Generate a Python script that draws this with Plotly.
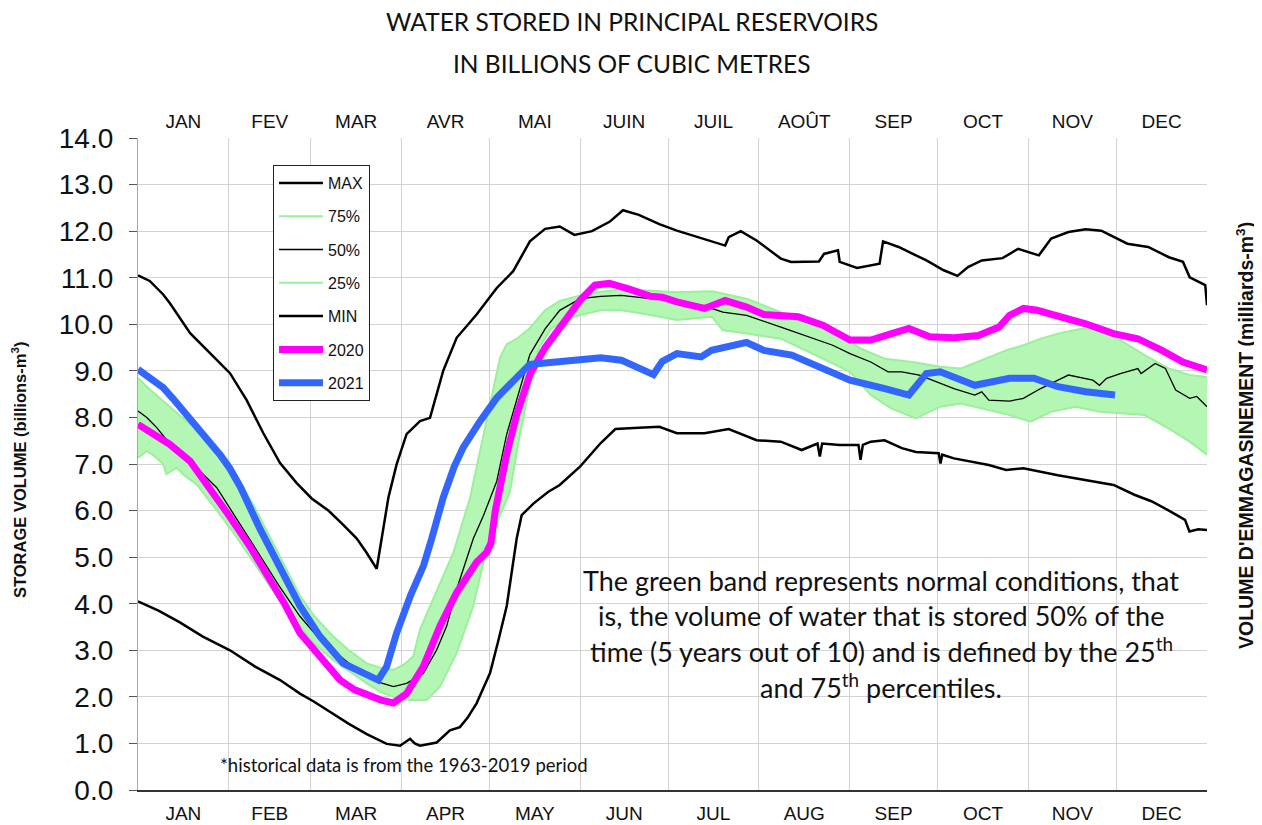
import plotly.graph_objects as go

# ---------------- data (day of year, billions m3) ----------------
MONTH_START = [0, 31, 59, 90, 120, 151, 181, 212, 243, 273, 304, 334, 365]
MONTHS_EN = ["JAN", "FEB", "MAR", "APR", "MAY", "JUN", "JUL", "AUG", "SEP", "OCT", "NOV", "DEC"]
MONTHS_FR = ["JAN", "FEV", "MAR", "AVR", "MAI", "JUIN", "JUIL", "AOÛT", "SEP", "OCT", "NOV", "DEC"]
Y_TICKS = [0, 1, 2, 3, 4, 5, 6, 7, 8, 9, 10, 11, 12, 13, 14]

MAX_DAY = [0, 4, 8.6, 10.9, 17.8, 25.7, 31.4, 37.1, 42.8, 48.5, 54.2, 59.3, 65, 70, 74.7, 78, 81.5,
           83.2, 85.5, 88.3, 91.7, 96.3, 99.7, 104.2, 108.8, 115.6, 122.5, 128.1, 133.8, 139, 144,
           149, 155, 161, 165.6, 171, 178, 184, 192, 200.5, 201.7, 205.8, 211.2, 219.5, 223, 232.5,
           234.2, 239, 239.6, 245.5, 253.2, 254.4, 259.7, 269.2, 275.1, 279.8, 283.4, 288.1, 295.2,
           300.5, 307.6, 311.8, 317.7, 323.6, 328.9, 337.8, 344.9, 352, 356.8, 359.1, 364.4, 365]
MAX_VAL = [11.05, 10.93, 10.64, 10.45, 9.81, 9.3, 8.95, 8.37, 7.66, 7.02, 6.59, 6.26, 6.0, 5.7, 5.4,
           5.1, 4.75, 5.4, 6.28, 6.99, 7.64, 7.92, 7.99, 9.0, 9.71, 10.21, 10.78, 11.14, 11.78, 12.05,
           12.1, 11.92, 12.0, 12.2, 12.45, 12.35, 12.15, 12.01, 11.85, 11.69, 11.87, 12.0, 11.8, 11.41,
           11.34, 11.35, 11.51, 11.59, 11.34, 11.21, 11.3, 11.78, 11.66, 11.37, 11.16, 11.04, 11.23,
           11.37, 11.42, 11.62, 11.48, 11.84, 11.98, 12.04, 12.01, 11.73, 11.66, 11.44, 11.34, 11.01,
           10.84, 10.41]

P75_DAY = [0, 4, 8.6, 16, 24, 31, 40, 48, 55.3, 60, 66.6, 72, 78.1, 83, 87.2, 91, 94, 96.3, 100.8,
           103.1, 107.7, 113.4, 118, 121, 123.6, 125.9, 129.8, 133.8, 139, 144, 151, 158, 165, 175,
           184, 196, 207.8, 219.5, 231.3, 239.6, 246.7, 255, 264.4, 273.9, 281, 290.5, 296.4, 302.3,
           308.2, 314.1, 322.4, 328.3, 335.4, 343.7, 352, 359.1, 365]
P75_VAL = [8.85, 8.6, 8.35, 7.95, 7.55, 7.05, 6.05, 5.05, 4.17, 3.75, 3.3, 3.0, 2.72, 2.62, 2.58, 2.7,
           2.87, 3.45, 4.1, 4.46, 5.1, 6.28, 7.6, 8.5, 9.28, 9.57, 9.71, 9.92, 10.3, 10.5, 10.62, 10.7,
           10.75, 10.72, 10.69, 10.71, 10.55, 10.26, 9.98, 9.8, 9.48, 9.26, 9.19, 9.09, 9.05, 9.3,
           9.44, 9.55, 9.69, 9.8, 9.91, 9.87, 9.66, 9.34, 9.05, 8.91, 8.87]

P50_DAY = [0, 3, 6.4, 10, 14.3, 20, 26.9, 34, 41, 48, 55.3, 62.1, 69, 74, 79.2, 83, 87.2, 91.7, 97.4,
           102, 105.4, 108.8, 112.2, 114.5, 118, 122.5, 125.9, 130.4, 133.8, 139, 144, 151, 158, 165,
           175, 185, 193, 199.7, 207.8, 219.5, 231.3, 237.2, 243.1, 250.2, 256.1, 260.8, 266.8, 273.9,
           278.6, 285.7, 288.1, 290.5, 297.6, 302.3, 308.2, 314.1, 317.7, 326, 328.3, 330.7, 335.4,
           341.4, 342.5, 347.3, 350.8, 354.3, 359.1, 361.5, 365]
P50_VAL = [8.14, 8.0, 7.78, 7.5, 7.21, 6.92, 6.49, 5.8, 5.1, 4.4, 3.73, 3.23, 2.87, 2.62, 2.43, 2.3,
           2.22, 2.29, 2.5, 3.01, 3.52, 4.31, 4.96, 5.4, 5.9, 6.63, 7.64, 8.64, 9.35, 9.9, 10.3, 10.55,
           10.6, 10.62, 10.55, 10.5, 10.4, 10.26, 10.19, 9.94, 9.69, 9.55, 9.37, 9.19, 8.98, 8.98, 8.91,
           8.73, 8.62, 8.48, 8.55, 8.37, 8.35, 8.41, 8.62, 8.8, 8.91, 8.8, 8.69, 8.84, 8.94, 9.05, 8.94,
           9.16, 9.05, 8.59, 8.41, 8.45, 8.23]

P25_DAY = [0, 3, 6, 8.6, 9.7, 13.2, 16, 20, 27, 34, 41, 48, 55.3, 60, 66.6, 72, 78.1, 83, 87.2, 92.9,
           98.6, 103.1, 108.8, 114.5, 117.3, 119, 123, 127, 130, 133.8, 137, 141, 146, 151, 158, 165,
           175, 184, 196, 199.7, 207.8, 219.5, 231.3, 243.1, 250.2, 257.3, 265.6, 273.9, 281, 290.5,
           297.6, 304.7, 311.8, 320.1, 328.3, 335.4, 343.7, 352, 359.1, 365]
P25_VAL = [7.13, 7.28, 7.15, 7.0, 6.78, 6.92, 6.75, 6.56, 6.0, 5.4, 4.75, 4.1, 3.52, 3.15, 2.79, 2.55,
           2.29, 2.1, 2.0, 1.93, 1.93, 2.22, 2.94, 3.95, 4.68, 5.18, 5.8, 6.4, 7.5, 8.7, 9.5, 9.9, 10.1,
           10.2, 10.3, 10.3, 10.2, 10.09, 10.16, 9.87, 9.8, 9.69, 9.34, 8.98, 8.48, 8.19, 7.98, 8.23,
           8.3, 8.16, 8.05, 7.91, 8.12, 8.23, 8.12, 8.09, 8.05, 7.76, 7.48, 7.2]

MIN_DAY = [0, 7, 14.3, 22, 31.4, 40, 48.5, 55.3, 60, 66.6, 72, 78.1, 84.9, 89.5, 92.9, 94.5, 96.3,
           102, 106.5, 109.9, 112.5, 115.6, 120.2, 123, 125.9, 129.3, 131, 135, 140, 144, 151, 158,
           163, 171, 178, 184, 193.4, 201.7, 211.2, 219.5, 226.6, 232, 232.8, 233.6, 239.6, 246,
           246.7, 247.5, 250.2, 254.9, 260.8, 265.6, 273.4, 274, 274.6, 278.6, 290.5, 296.4, 302.3,
           314.1, 326, 333.1, 340.2, 346, 352, 357.5, 359, 362, 365]
MIN_VAL = [4.05, 3.85, 3.6, 3.3, 3.0, 2.65, 2.36, 2.07, 1.9, 1.64, 1.42, 1.2, 0.99, 0.95, 1.1, 1.0,
           0.95, 1.02, 1.28, 1.35, 1.55, 1.86, 2.51, 3.2, 3.95, 5.4, 5.9, 6.15, 6.4, 6.55, 6.95, 7.45,
           7.75, 7.78, 7.8, 7.66, 7.66, 7.75, 7.51, 7.48, 7.3, 7.44, 7.16, 7.44, 7.41, 7.41, 7.09,
           7.41, 7.48, 7.51, 7.34, 7.26, 7.23, 7.01, 7.2, 7.12, 6.98, 6.87, 6.91, 6.76, 6.62, 6.55,
           6.34, 6.2, 6.0, 5.8, 5.55, 5.6, 5.58]

Y2020_DAY = [0, 5, 10.9, 17.8, 24.6, 31, 38, 45, 50, 55.3, 62.1, 69, 74, 78.1, 83, 87.2, 91.7, 97.4,
             103.1, 108.8, 115.6, 119, 120.5, 122, 125.9, 129.3, 133.8, 139, 144, 151, 156, 161, 168,
             175, 179, 184, 193.4, 200.5, 207.8, 213.7, 225.5, 233.8, 243.1, 250.2, 257.3, 263.2,
             270.3, 278.6, 286.9, 294, 297.6, 302.3, 307, 314.1, 323.6, 333.1, 341.4, 349.6, 356.8, 365]
Y2020_VAL = [7.85, 7.65, 7.42, 7.06, 6.49, 5.9, 5.25, 4.55, 4.0, 3.37, 2.87, 2.36, 2.15, 2.04, 1.93,
             1.87, 2.07, 2.65, 3.52, 4.24, 4.89, 5.1, 5.3, 6.0, 7.21, 8.06, 8.92, 9.5, 9.95, 10.52,
             10.84, 10.88, 10.75, 10.6, 10.58, 10.48, 10.34, 10.51, 10.37, 10.21, 10.16, 9.98, 9.66,
             9.66, 9.8, 9.91, 9.73, 9.71, 9.76, 9.94, 10.19, 10.34, 10.3, 10.19, 10.01, 9.8, 9.69,
             9.44, 9.19, 9.02]

Y2021_DAY = [0, 4, 8.6, 12, 16.6, 20, 24.6, 28, 31.4, 35, 41.7, 48, 55.3, 62.1, 66, 70.1, 74, 78.1,
             82, 84.9, 88.3, 93, 97.5, 100.3, 104.2, 108, 111, 116.8, 122.5, 128.1, 133.8, 139, 144,
             151, 158, 165, 170, 174, 176, 179, 184, 192.3, 195.8, 207.8, 213.7, 223.2, 233.8, 243.1,
             255, 263.2, 269.2, 273.9, 285.7, 297.6, 305.9, 314.1, 323.6, 333.6]
Y2021_VAL = [9.03, 8.85, 8.64, 8.4, 8.06, 7.8, 7.49, 7.2, 6.9, 6.5, 5.6, 4.8, 3.95, 3.3, 3.0, 2.72,
             2.6, 2.47, 2.36, 2.65, 3.37, 4.17, 4.82, 5.4, 6.28, 6.95, 7.35, 7.92, 8.42, 8.78, 9.14,
             9.17, 9.2, 9.25, 9.28, 9.23, 9.1, 8.98, 8.92, 9.2, 9.37, 9.3, 9.44, 9.61, 9.44, 9.34,
             9.05, 8.8, 8.62, 8.48, 8.94, 8.98, 8.69, 8.84, 8.84, 8.66, 8.55, 8.48]

# ---------------- styles ----------------
GREEN_LINE = "#9cef9c"
GREEN_FILL = "#b4f7b4"
MAGENTA = "#ff00ff"
BLUE = "#3366ff"
SANS = "Arial, Liberation Sans, sans-serif"
HUMAN = "Lato, Open Sans, sans-serif"

# the page body has an 8px margin, so the figure is 8px smaller than the window
PAGE_OFF = 8
FIG_W, FIG_H = 1262 - PAGE_OFF, 825 - PAGE_OFF
PLOT_L, PLOT_R, PLOT_T, PLOT_B = 138, 1207, 138, 790   # page pixels of the plot area


def px(xp):
    return (xp - PLOT_L) / (PLOT_R - PLOT_L)


def py(yp):
    return (PLOT_B - yp) / (PLOT_B - PLOT_T)


mid_month = [(MONTH_START[i] + MONTH_START[i + 1]) / 2 for i in range(12)]

fig = go.Figure()

# green band fill
fig.add_trace(go.Scatter(x=P75_DAY, y=P75_VAL, mode="lines", line=dict(width=0, color=GREEN_FILL),
                         showlegend=False, hoverinfo="skip"))
fig.add_trace(go.Scatter(x=P25_DAY, y=P25_VAL, mode="lines", line=dict(width=0, color=GREEN_FILL),
                         fill="tonexty", fillcolor=GREEN_FILL, showlegend=False, hoverinfo="skip"))

fig.add_trace(go.Scatter(x=P75_DAY, y=P75_VAL, mode="lines", name="75%", legendrank=2, legendgroup="g2",
                         line=dict(color=GREEN_LINE, width=2)))
fig.add_trace(go.Scatter(x=P25_DAY, y=P25_VAL, mode="lines", name="25%", legendrank=4, legendgroup="g4",
                         line=dict(color=GREEN_LINE, width=2)))
fig.add_trace(go.Scatter(x=MAX_DAY, y=MAX_VAL, mode="lines", name="MAX", legendrank=1, legendgroup="g1",
                         line=dict(color="black", width=2.5)))
fig.add_trace(go.Scatter(x=MIN_DAY, y=MIN_VAL, mode="lines", name="MIN", legendrank=5, legendgroup="g5",
                         line=dict(color="black", width=2.5)))
fig.add_trace(go.Scatter(x=P50_DAY, y=P50_VAL, mode="lines", name="50%", legendrank=3, legendgroup="g3",
                         line=dict(color="black", width=1.3)))
fig.add_trace(go.Scatter(x=Y2020_DAY, y=Y2020_VAL, mode="lines", name="2020", legendrank=6, legendgroup="g6",
                         line=dict(color=MAGENTA, width=7)))
fig.add_trace(go.Scatter(x=Y2021_DAY, y=Y2021_VAL, mode="lines", name="2021", legendrank=7, legendgroup="g7",
                         line=dict(color=BLUE, width=7)))
# carrier for the top (French) month axis
fig.add_trace(go.Scatter(x=[MONTH_START[0], MONTH_START[-1]], y=[None, None], xaxis="x2", mode="lines",
                         showlegend=False, hoverinfo="skip"))

fig.update_layout(
    width=FIG_W, height=FIG_H,
    margin=dict(l=PLOT_L - PAGE_OFF, r=FIG_W - (PLOT_R - PAGE_OFF), t=PLOT_T - PAGE_OFF,
                b=FIG_H - (PLOT_B - PAGE_OFF), autoexpand=False),
    paper_bgcolor="white", plot_bgcolor="white",
    font=dict(family=SANS, color="#111"),
    xaxis=dict(range=[0, 365], tickmode="array", tickvals=mid_month, ticktext=MONTHS_EN,
               showgrid=False, ticks="", zeroline=False, showline=True, linecolor="#333", linewidth=1.5,
               automargin=False,
               tickfont=dict(size=19, family=SANS, color="#111"), ticklabelstandoff=5,
               minor=dict(tickmode="array", tickvals=MONTH_START, showgrid=True,
                          gridcolor="#d2d2d2", gridwidth=1.3, ticks="")),
    xaxis2=dict(range=[0, 365], overlaying="x", side="top", anchor="y", tickmode="array",
                tickvals=mid_month, ticktext=MONTHS_FR, showgrid=False, ticks="", zeroline=False,
                showline=False, automargin=False,
                tickfont=dict(size=19, family=SANS, color="#111"), ticklabelstandoff=5),
    yaxis=dict(range=[0, 14], tickmode="array", tickvals=Y_TICKS, tickformat=".1f",
               showgrid=True, gridcolor="#d2d2d2", gridwidth=1.3, zeroline=False, automargin=False,
               showline=True, linecolor="#a8a8a8", linewidth=1.3, ticks="outside", ticklen=8,
               tickcolor="#555", tickwidth=1.3, ticklabelstandoff=10,
               tickfont=dict(size=28, family=SANS, color="#111")),
    legend=dict(x=px(273), y=py(165), xanchor="left", yanchor="top",
                bgcolor="white", bordercolor="#222", borderwidth=1, traceorder="grouped",
                tracegroupgap=9.5, font=dict(size=16, family=SANS, color="#111"), itemwidth=44),
    showlegend=True,
)

ann = []
ann.append(dict(text="WATER STORED IN PRINCIPAL RESERVOIRS", x=0.5, y=py(22)))
ann.append(dict(text="IN BILLIONS OF CUBIC METRES", x=0.5, y=py(63)))
for a in ann:
    a.update(xref="paper", yref="paper", xanchor="center", yanchor="middle", showarrow=False,
             font=dict(size=24.5, family=HUMAN, color="#111"))
    a["x"] = px(632)

body = ["The green band represents normal conditions, that",
        "is, the volume of water that is stored 50% of the",
        "time (5 years out of 10) and is defined by the 25<sup>th</sup>",
        "and 75<sup>th</sup> percentiles."]
body_y = [580, 615, 650, 686]
for t, yy in zip(body, body_y):
    ann.append(dict(text=t, x=px(881), y=py(yy), xref="paper", yref="paper",
                    xanchor="center", yanchor="middle", showarrow=False,
                    font=dict(size=27, family=HUMAN, color="#111")))
ann.append(dict(text="*historical data is from the 1963-2019 period", x=px(218),
                y=py(765), xref="paper", yref="paper", xanchor="left", yanchor="middle",
                showarrow=False, font=dict(size=18.5, family=HUMAN, color="#111")))
ann.append(dict(text="<b>STORAGE VOLUME (billions-m<sup>3</sup>)</b>", x=px(19),
                y=py(470), xref="paper", yref="paper", textangle=-90, showarrow=False,
                xanchor="center", yanchor="middle", font=dict(size=16.5, family=SANS, color="#111")))
ann.append(dict(text="<b>VOLUME D'EMMAGASINEMENT (milliards-m<sup>3</sup>)</b>", x=px(1245),
                y=py(436), xref="paper", yref="paper", textangle=-90, showarrow=False,
                xanchor="center", yanchor="middle", font=dict(size=19.5, family=SANS, color="#111")))
fig.update_layout(annotations=ann)

fig.write_html("out.html")
